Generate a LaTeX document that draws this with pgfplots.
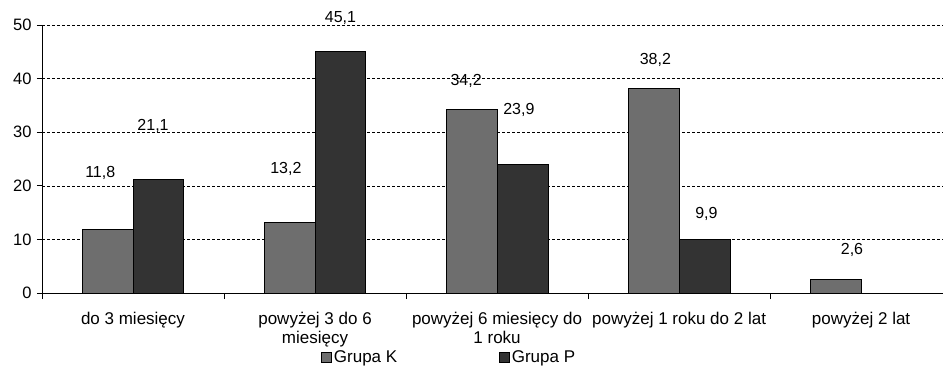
\documentclass[border=0pt]{standalone}
\usepackage{pgfplots}
\pgfplotsset{compat=1.18}
\usepackage{fontspec}
\setmainfont{Liberation Sans}
\definecolor{gk}{HTML}{6E6E6E}
\definecolor{gp}{HTML}{333333}
\pgfplotsset{sqlegend/.style={legend image code/.code={\draw[##1,/tikz/.cd,line width=0.6pt] (0pt,-5pt) rectangle (10pt,5pt);}}}
\begin{document}
\begin{tikzpicture}[font=\fontsize{16}{19}\selectfont]
\begin{axis}[
  scale only axis, width=901pt, height=268pt,
  xmin=-0.5, xmax=4.45, ymin=0, ymax=50,
  clip=false,
  axis lines*=left,
  axis line style={black, line width=0.8pt},
  /pgf/number format/assume math mode=true,
  ytick={0,10,...,50},
  ymajorgrids,
  grid style={black, line width=0.6pt, dash pattern=on 3pt off 2pt},
  xtick={0,...,4},
  xticklabels={{do 3 miesięcy},{powyżej 3 do 6\\miesięcy},{powyżej 6 miesięcy do\\1 roku},{powyżej 1 roku do 2 lat},{powyżej 2 lat}},
  xticklabel style={align=center, yshift=-11pt, font=\fontsize{17}{18.5}\selectfont},
  yticklabel style={font=\fontsize{16.5}{19}\selectfont, xshift=-2pt},
  major x tick style={draw=none},
  minor xtick={-0.5,0.5,1.5,2.5,3.5},
  tick align=outside,
  major tick length=5pt, minor tick length=6pt,
  tick style={black, line width=0.8pt},
  legend columns=2,
  legend style={at={(0.452,0)}, anchor=north, yshift=-53pt, draw=none, fill=none,
    font=\fontsize{17}{19}\selectfont,
    /tikz/every even column/.append style={column sep=100pt}},
  legend cell align=left,
]
\addplot[ybar, bar width=0.28, bar shift=-0.14, fill=gk, draw=black, line width=1pt, sqlegend]
  coordinates {(0,11.8) (1,13.2) (2,34.2) (3,38.2) (4,2.6)};
\addlegendentry{Grupa K}
\addplot[ybar, bar width=0.28, bar shift=0.14, fill=gp, draw=black, line width=1pt, sqlegend]
  coordinates {(0,21.1) (1,45.1) (2,23.9) (3,9.9)};
\addlegendentry{Grupa P}
\node at (axis cs:-0.18,22.4) {11,8};
\node at (axis cs:0.11,31.1) {21,1};
\node at (axis cs:0.84,23.1) {13,2};
\node at (axis cs:1.14,51.3) {45,1};
\node at (axis cs:1.83,39.6) {34,2};
\node at (axis cs:2.12,34.1) {23,9};
\node at (axis cs:2.87,43.5) {38,2};
\node at (axis cs:3.15,14.8) {9,9};
\node at (axis cs:3.95,8.0) {2,6};
\coordinate (bl) at (rel axis cs:0,0);
\coordinate (tr) at (rel axis cs:1,1);
\end{axis}
\pgfresetboundingbox
\path[use as bounding box] ([xshift=-42pt,yshift=-85pt]bl) rectangle ([yshift=25pt]tr);
\end{tikzpicture}
\end{document}
